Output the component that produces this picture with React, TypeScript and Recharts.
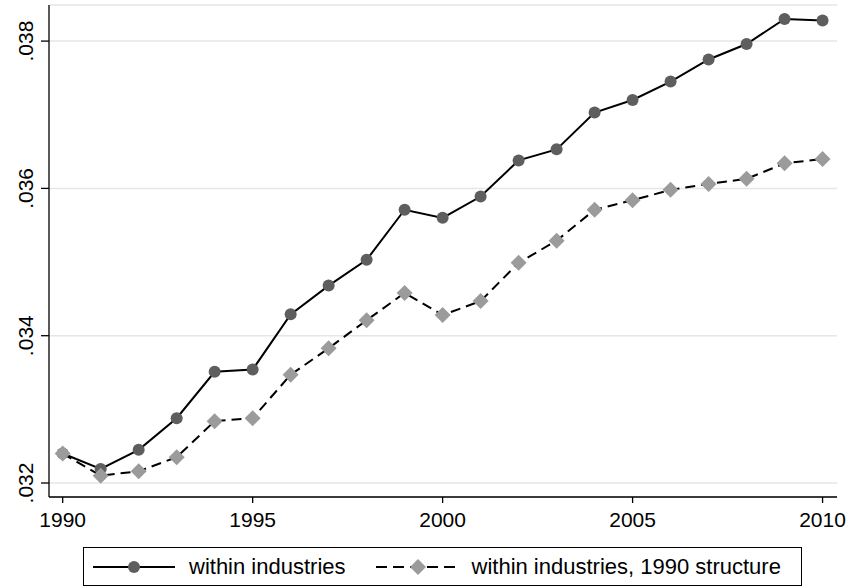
import React from 'react';
import { LineChart, Line, XAxis, YAxis, CartesianGrid } from 'recharts';

const years = [1990, 1991, 1992, 1993, 1994, 1995, 1996, 1997, 1998, 1999, 2000, 2001, 2002, 2003, 2004, 2005, 2006, 2007, 2008, 2009, 2010];
const withinIndustries = [0.0324, 0.03219, 0.03245, 0.03288, 0.03351, 0.03354, 0.03429, 0.03468, 0.03503, 0.03571, 0.0356, 0.03589, 0.03638, 0.03653, 0.03703, 0.0372, 0.03745, 0.03775, 0.03796, 0.0383, 0.03828];
const structure1990 = [0.0324, 0.0321, 0.03216, 0.03235, 0.03284, 0.03288, 0.03347, 0.03383, 0.03421, 0.03458, 0.03428, 0.03447, 0.03499, 0.03529, 0.03571, 0.03584, 0.03598, 0.03606, 0.03613, 0.03634, 0.0364];
const xTicks = [1990, 1995, 2000, 2005, 2010];
const yTicks = [0.032, 0.034, 0.036, 0.038];
const seriesNames = ['within industries', 'within industries, 1990 structure'];

const data = years.map((year, i) => ({
  year,
  within: withinIndustries[i],
  structure: structure1990[i],
}));

const FONT = '"Liberation Sans", Arial, Helvetica, sans-serif';
const CIRCLE = '#5e5e5e';
const DIAMOND = '#9b9b9b';

const fmt = (v: number) => v.toFixed(3).replace(/^0/, '');

const YTick = (props: any) => {
  const { x, y, payload } = props;
  return (
    <text
      x={x}
      y={y}
      transform={`rotate(-90, ${x}, ${y})`}
      textAnchor="middle"
      fontSize={21}
      fontFamily={FONT}
      fill="#000"
    >
      {fmt(payload.value)}
    </text>
  );
};

// gray diamond marker for the 1990-structure series
const Diamond = (props: any) => {
  const { cx, cy, index } = props;
  if (cx == null || cy == null) return null;
  const r = 8;
  return (
    <path
      key={`d-${index}`}
      d={`M${cx},${cy - r} L${cx + r},${cy} L${cx},${cy + r} L${cx - r},${cy} Z`}
      fill={DIAMOND}
    />
  );
};

const LegendBox = () => (
  <div
    style={{
      position: 'absolute',
      left: 83,
      top: 547,
      width: 719,
      height: 39,
      boxSizing: 'border-box',
      border: '1px solid #000',
      display: 'flex',
      alignItems: 'center',
      fontFamily: FONT,
      fontSize: 22,
      color: '#000',
      background: '#fff',
    }}
  >
    <svg width={84} height={20} style={{ marginLeft: 9 }}>
      <line x1={0} y1={10} x2={82} y2={10} stroke="#000" strokeWidth={2} />
      <circle cx={41} cy={10} r={6} fill={CIRCLE} />
    </svg>
    <span style={{ marginLeft: 12, whiteSpace: 'nowrap' }}>{seriesNames[0]}</span>
    <svg width={84} height={20} style={{ marginLeft: 30 }}>
      <line x1={0} y1={10} x2={82} y2={10} stroke="#000" strokeWidth={2} strokeDasharray="11 6" />
      <path d="M42,2 L50,10 L42,18 L34,10 Z" fill={DIAMOND} />
    </svg>
    <span style={{ marginLeft: 12, whiteSpace: 'nowrap' }}>{seriesNames[1]}</span>
  </div>
);

const App: React.FC = () => {
  return (
    <div style={{ position: 'absolute', left: 0, top: 0, width: 850, height: 587, background: '#fff' }}>
      <LineChart
        width={850}
        height={587}
        data={data}
        margin={{ top: 5, right: 13, left: 0, bottom: 0 }}
      >
        <CartesianGrid horizontal vertical={false} stroke="#e6e6e6" strokeWidth={1.5} />
        <XAxis
          dataKey="year"
          type="number"
          domain={[1989.64, 2010.38]}
          ticks={xTicks}
          height={90}
          tickSize={6}
          tickMargin={9}
          stroke="#000"
          strokeWidth={1.3}
          tick={{ fontSize: 21, fontFamily: FONT, fill: '#000' }}
          allowDataOverflow
        />
        <YAxis
          type="number"
          domain={[0.03181, 0.03849]}
          ticks={yTicks}
          width={49}
          tickSize={8}
          tickMargin={8}
          stroke="#000"
          strokeWidth={1.3}
          tick={<YTick />}
          allowDataOverflow
        />
        <Line
          dataKey="within"
          stroke="#000"
          strokeWidth={2}
          dot={{ r: 6, fill: CIRCLE, stroke: 'none' }}
          isAnimationActive={false}
        />
        <Line
          dataKey="structure"
          stroke="#000"
          strokeWidth={2}
          strokeDasharray="10 6"
          dot={Diamond}
          isAnimationActive={false}
        />
      </LineChart>
      <LegendBox />
    </div>
  );
};

export default App;
